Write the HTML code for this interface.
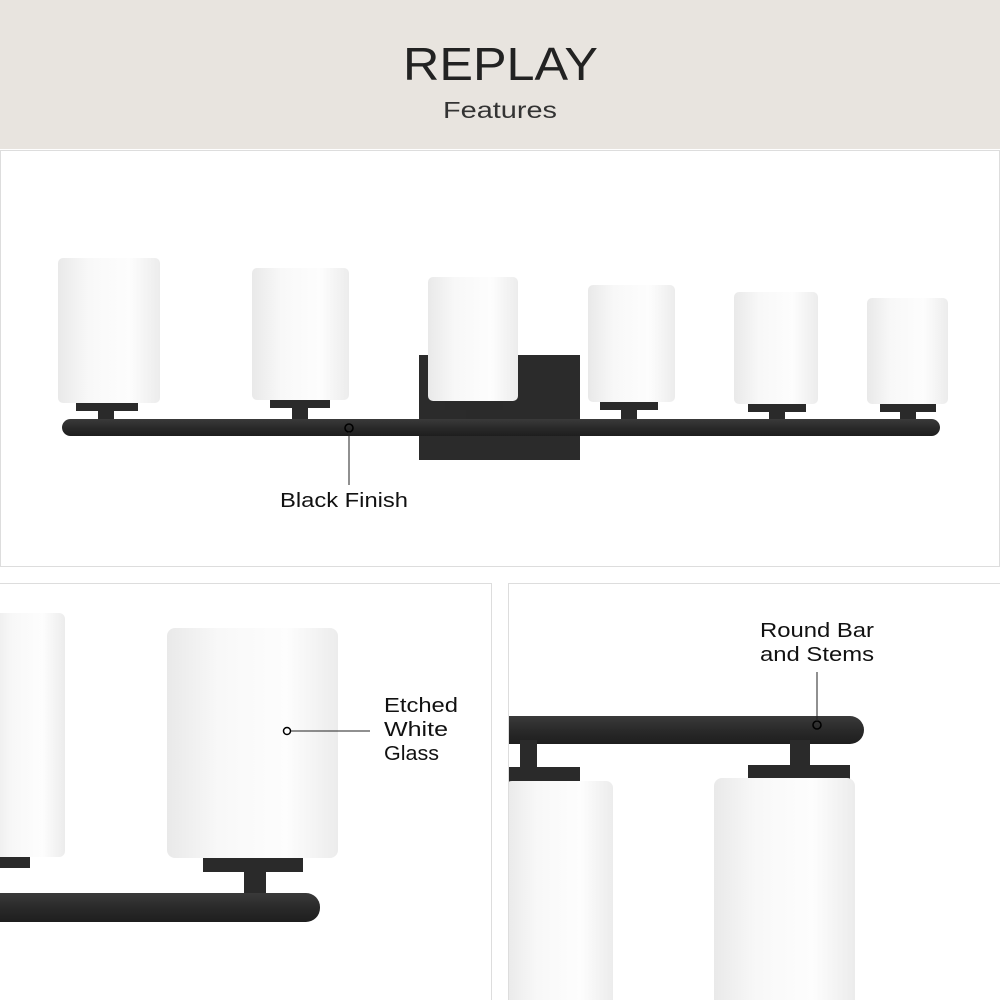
<!DOCTYPE html>
<html><head><meta charset="utf-8"><style>
body{margin:0;width:1000px;height:1000px;overflow:hidden;background:#fff;font-family:"Liberation Sans",sans-serif}
</style></head><body>
<svg width="1000" height="1000" viewBox="0 0 1000 1000" xmlns="http://www.w3.org/2000/svg" font-family="Liberation Sans, sans-serif">
<defs>
<linearGradient id="g" x1="0" x2="1" y1="0" y2="0">
<stop offset="0" stop-color="#e9e9e9"/><stop offset="0.3" stop-color="#f8f8f8"/><stop offset="0.7" stop-color="#fdfdfd"/><stop offset="1" stop-color="#ececec"/>
</linearGradient>
<linearGradient id="b" x1="0" x2="0" y1="0" y2="1">
<stop offset="0" stop-color="#3a3a3a"/><stop offset="0.5" stop-color="#2a2a2a"/><stop offset="1" stop-color="#1e1e1e"/>
</linearGradient>
</defs>
<rect x="0" y="0" width="1000" height="149" fill="#e8e4df"/>
<text x="403" y="80" font-size="46" fill="#222" textLength="195" lengthAdjust="spacingAndGlyphs">REPLAY</text>
<text x="443" y="118" font-size="23" fill="#333" textLength="114" lengthAdjust="spacingAndGlyphs">Features</text>
<rect x="0.5" y="150.5" width="999" height="416" fill="#fff" stroke="#ddd"/>
<rect x="-1" y="583.5" width="492.5" height="420" fill="#fff" stroke="#ddd"/>
<rect x="508.5" y="583.5" width="495" height="420" fill="#fff" stroke="#ddd"/>

<!-- top panel -->
<rect x="419" y="355" width="161" height="105" fill="#2b2b2b"/>
<g fill="#2a2a2a">
<rect x="76" y="401" width="62" height="10"/><rect x="98" y="410" width="16" height="10"/>
<rect x="270" y="398" width="60" height="10"/><rect x="292" y="407" width="16" height="12"/>
<rect x="445" y="400" width="58" height="10"/><rect x="466" y="409" width="14" height="10"/>
<rect x="600" y="400" width="58" height="10"/><rect x="621" y="409" width="16" height="12"/>
<rect x="748" y="402" width="58" height="10"/><rect x="769" y="411" width="16" height="10"/>
<rect x="880" y="402" width="56" height="10"/><rect x="900" y="411" width="16" height="10"/>
</g>
<rect x="62" y="419" width="878" height="17" rx="8.5" fill="url(#b)"/>
<g fill="url(#g)">
<rect x="58" y="258" width="102" height="145" rx="5"/>
<rect x="252" y="268" width="97" height="132" rx="5"/>
<rect x="428" y="277" width="90" height="124" rx="5"/>
<rect x="588" y="285" width="87" height="117" rx="5"/>
<rect x="734" y="292" width="84" height="112" rx="5"/>
<rect x="867" y="298" width="81" height="106" rx="5"/>
</g>
<circle cx="349" cy="428" r="4" fill="none" stroke="#000" stroke-width="1.6"/>
<line x1="349" y1="432" x2="349" y2="485" stroke="#222" stroke-width="1"/>
<text x="280" y="507" font-size="20" fill="#111" textLength="128" lengthAdjust="spacingAndGlyphs">Black Finish</text>

<!-- bottom left -->
<svg x="0" y="584" width="491" height="416" viewBox="0 584 491 416">
<rect x="0" y="855" width="30" height="13" fill="#2a2a2a"/>
<rect x="-10" y="613" width="75" height="244" rx="6" fill="url(#g)"/>
<rect x="203" y="857" width="100" height="15" fill="#2a2a2a"/>
<rect x="244" y="870" width="22" height="25" fill="#2a2a2a"/>
<rect x="-20" y="893" width="340" height="29" rx="14" fill="url(#b)"/>
<rect x="167" y="628" width="171" height="230" rx="8" fill="url(#g)"/>
</svg>
<circle cx="287" cy="731" r="3.5" fill="#fff" stroke="#000" stroke-width="1.5"/>
<line x1="291" y1="731" x2="370" y2="731" stroke="#222" stroke-width="1"/>
<text font-size="20" fill="#111"><tspan x="384" y="712" textLength="74" lengthAdjust="spacingAndGlyphs">Etched</tspan><tspan x="384" y="736" textLength="64" lengthAdjust="spacingAndGlyphs">White</tspan><tspan x="384" y="760" textLength="55" lengthAdjust="spacingAndGlyphs">Glass</tspan></text>

<!-- bottom right -->
<svg x="509" y="584" width="491" height="416" viewBox="509 584 491 416">
<rect x="490" y="716" width="374" height="28" rx="14" fill="url(#b)"/>
<rect x="520" y="740" width="17" height="28" fill="#2a2a2a"/>
<rect x="505" y="767" width="75" height="15" fill="#2a2a2a"/>
<rect x="790" y="740" width="20" height="26" fill="#2a2a2a"/>
<rect x="748" y="765" width="102" height="15" fill="#2a2a2a"/>
<rect x="505" y="781" width="108" height="240" rx="7" fill="url(#g)"/>
<rect x="714" y="778" width="141" height="240" rx="8" fill="url(#g)"/>
</svg>
<circle cx="817" cy="725" r="4" fill="none" stroke="#000" stroke-width="1.6"/>
<line x1="817" y1="721" x2="817" y2="672" stroke="#222" stroke-width="1"/>
<text font-size="20" fill="#111"><tspan x="760" y="637" textLength="114" lengthAdjust="spacingAndGlyphs">Round Bar</tspan><tspan x="760" y="661" textLength="114" lengthAdjust="spacingAndGlyphs">and Stems</tspan></text>
</svg>
</body></html>
